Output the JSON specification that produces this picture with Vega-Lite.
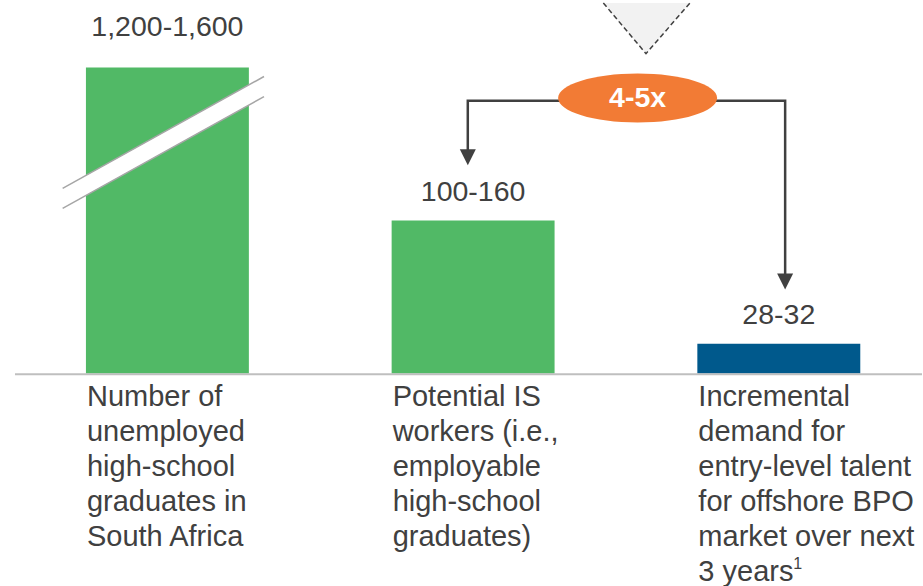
{
  "$schema": "https://vega.github.io/schema/vega-lite/v6.json",
  "width": 923,
  "height": 586,
  "autosize": {"type": "fit", "contains": "padding"},
  "padding": 0,
  "background": "white",
  "config": {"view": {"stroke": null}, "font": "Liberation Sans"},
  "datasets": {
    "bars": [
      {"key": "A", "category": "Number of\nunemployed\nhigh-school\ngraduates in\nSouth Africa", "range": "1,200-1,600", "value": 308, "segment": "Supply", "broken": true},
      {"key": "B", "category": "Potential IS\nworkers (i.e.,\nemployable\nhigh-school\ngraduates)", "range": "100-160", "value": 154, "segment": "Supply", "broken": false},
      {"key": "C", "category": "Incremental\ndemand for\nentry-level talent\nfor offshore BPO\nmarket over next\n3 years", "range": "28-32", "value": 30, "segment": "Demand", "broken": false}
    ],
    "triangle": [
      {"x": 604, "top": 373, "bottom": 373},
      {"x": 646.7, "top": 373, "bottom": 322},
      {"x": 690.7, "top": 373, "bottom": 373}
    ],
    "connector": [
      {"i": 0, "x": 468.3, "y": 222},
      {"i": 1, "x": 468.3, "y": 274.5},
      {"i": 2, "x": 786, "y": 274.5},
      {"i": 3, "x": 786, "y": 97}
    ],
    "arrows": [
      {"x": 468.3, "y": 217.7},
      {"x": 786, "y": 92.7}
    ],
    "multiple": [
      {"x": 638.3, "y": 277.3, "label": "4-5x"}
    ],
    "breakBand": [
      {"x": 62.7, "upper": 186.3, "lower": 166.3},
      {"x": 264.3, "upper": 299, "lower": 278.7}
    ],
    "baseline": [
      {"from": 15, "to": 923, "level": -0.8}
    ],
    "footnote": [
      {"x": 794, "y": -196.5, "mark": "1"}
    ]
  },
  "resolve": {"scale": {"x": "independent"}},
  "layer": [
    {
      "data": {"name": "bars"},
      "layer": [
        {
          "mark": {"type": "bar"},
          "encoding": {
            "x": {"field": "key", "type": "nominal", "sort": null, "axis": null,
                  "scale": {"type": "band", "paddingInner": 0.467, "paddingOuter": 0.2415, "align": 0.582}},
            "y": {"field": "value", "type": "quantitative", "axis": null, "stack": null,
                  "scale": {"domain": [-213, 373], "nice": false}},
            "color": {"field": "segment", "type": "nominal", "legend": null,
                      "scale": {"domain": ["Supply", "Demand"], "range": ["#51B966", "#00598C"]}}
          }
        },
        {
          "transform": [{"filter": "datum.broken"}],
          "mark": {"type": "text", "align": "center", "baseline": "alphabetic", "fontSize": 28.5, "color": "#404040", "dy": -32},
          "encoding": {
            "x": {"field": "key", "type": "nominal", "sort": null, "axis": null},
            "y": {"field": "value", "type": "quantitative", "axis": null, "scale": {"domain": [-213, 373], "nice": false}},
            "text": {"field": "range", "type": "nominal"}
          }
        },
        {
          "transform": [{"filter": "!datum.broken"}],
          "mark": {"type": "text", "align": "center", "baseline": "alphabetic", "fontSize": 28.5, "color": "#404040", "dy": -20},
          "encoding": {
            "x": {"field": "key", "type": "nominal", "sort": null, "axis": null},
            "y": {"field": "value", "type": "quantitative", "axis": null, "scale": {"domain": [-213, 373], "nice": false}},
            "text": {"field": "range", "type": "nominal"}
          }
        },
        {
          "mark": {"type": "text", "align": "left", "baseline": "alphabetic", "fontSize": 29, "color": "#404040", "lineBreak": "\n", "lineHeight": 35, "dx": 1},
          "encoding": {
            "x": {"field": "key", "type": "nominal", "sort": null, "axis": null, "bandPosition": 0},
            "y": {"datum": -32.7, "type": "quantitative", "axis": null, "scale": {"domain": [-213, 373], "nice": false}},
            "text": {"field": "category", "type": "nominal"}
          }
        }
      ]
    },
    {
      "layer": [
        {
          "data": {"name": "triangle"},
          "mark": {"type": "area", "color": "#F2F2F2", "opacity": 1},
          "encoding": {
            "x": {"field": "x", "type": "quantitative", "axis": null, "scale": {"domain": [0, 923], "nice": false, "zero": false}},
            "y": {"field": "top", "type": "quantitative", "axis": null, "scale": {"domain": [-213, 373], "nice": false}},
            "y2": {"field": "bottom"}
          }
        },
        {
          "data": {"name": "triangle"},
          "mark": {"type": "line", "color": "#404040", "strokeWidth": 1.5, "strokeDash": [5, 3]},
          "encoding": {
            "x": {"field": "x", "type": "quantitative", "axis": null, "scale": {"domain": [0, 923], "nice": false, "zero": false}},
            "y": {"field": "bottom", "type": "quantitative", "axis": null, "scale": {"domain": [-213, 373], "nice": false}}
          }
        },
        {
          "data": {"name": "connector"},
          "mark": {"type": "line", "color": "#404040", "strokeWidth": 2.5, "strokeJoin": "miter"},
          "encoding": {
            "x": {"field": "x", "type": "quantitative", "axis": null, "scale": {"domain": [0, 923], "nice": false, "zero": false}},
            "y": {"field": "y", "type": "quantitative", "axis": null, "scale": {"domain": [-213, 373], "nice": false}},
            "order": {"field": "i", "type": "quantitative"}
          }
        },
        {
          "data": {"name": "arrows"},
          "mark": {"type": "point", "shape": "M-1,-1L1,-1L0,1Z", "size": 256, "filled": true, "color": "#404040", "opacity": 1, "strokeWidth": 0},
          "encoding": {
            "x": {"field": "x", "type": "quantitative", "axis": null, "scale": {"domain": [0, 923], "nice": false, "zero": false}},
            "y": {"field": "y", "type": "quantitative", "axis": null, "scale": {"domain": [-213, 373], "nice": false}}
          }
        },
        {
          "data": {"name": "multiple"},
          "mark": {"type": "point", "shape": "M-1,0A1,0.308,0,1,0,1,0A1,0.308,0,1,0,-1,0Z", "size": 25281, "filled": true, "color": "#F27B35", "opacity": 1, "strokeWidth": 0},
          "encoding": {
            "x": {"field": "x", "type": "quantitative", "axis": null, "scale": {"domain": [0, 923], "nice": false, "zero": false}},
            "y": {"field": "y", "type": "quantitative", "axis": null, "scale": {"domain": [-213, 373], "nice": false}}
          }
        },
        {
          "data": {"name": "multiple"},
          "mark": {"type": "text", "align": "center", "baseline": "alphabetic", "fontSize": 28.5, "fontWeight": "bold", "color": "white", "dy": 9},
          "encoding": {
            "x": {"field": "x", "type": "quantitative", "axis": null, "scale": {"domain": [0, 923], "nice": false, "zero": false}},
            "y": {"field": "y", "type": "quantitative", "axis": null, "scale": {"domain": [-213, 373], "nice": false}},
            "text": {"field": "label", "type": "nominal"}
          }
        },
        {
          "data": {"name": "breakBand"},
          "mark": {"type": "area", "color": "white", "opacity": 1},
          "encoding": {
            "x": {"field": "x", "type": "quantitative", "axis": null, "scale": {"domain": [0, 923], "nice": false, "zero": false}},
            "y": {"field": "upper", "type": "quantitative", "axis": null, "scale": {"domain": [-213, 373], "nice": false}},
            "y2": {"field": "lower"}
          }
        },
        {
          "data": {"name": "breakBand"},
          "mark": {"type": "line", "color": "#A6A6A6", "strokeWidth": 1.5},
          "encoding": {
            "x": {"field": "x", "type": "quantitative", "axis": null, "scale": {"domain": [0, 923], "nice": false, "zero": false}},
            "y": {"field": "upper", "type": "quantitative", "axis": null, "scale": {"domain": [-213, 373], "nice": false}}
          }
        },
        {
          "data": {"name": "breakBand"},
          "mark": {"type": "line", "color": "#A6A6A6", "strokeWidth": 1.5},
          "encoding": {
            "x": {"field": "x", "type": "quantitative", "axis": null, "scale": {"domain": [0, 923], "nice": false, "zero": false}},
            "y": {"field": "lower", "type": "quantitative", "axis": null, "scale": {"domain": [-213, 373], "nice": false}}
          }
        },
        {
          "data": {"name": "baseline"},
          "mark": {"type": "rule", "color": "#BFBFBF", "strokeWidth": 2},
          "encoding": {
            "x": {"field": "from", "type": "quantitative", "axis": null, "scale": {"domain": [0, 923], "nice": false, "zero": false}},
            "x2": {"field": "to"},
            "y": {"field": "level", "type": "quantitative", "axis": null, "scale": {"domain": [-213, 373], "nice": false}}
          }
        },
        {
          "data": {"name": "footnote"},
          "mark": {"type": "text", "align": "left", "baseline": "alphabetic", "fontSize": 16, "color": "#404040"},
          "encoding": {
            "x": {"field": "x", "type": "quantitative", "axis": null, "scale": {"domain": [0, 923], "nice": false, "zero": false}},
            "y": {"field": "y", "type": "quantitative", "axis": null, "scale": {"domain": [-213, 373], "nice": false}},
            "text": {"field": "mark", "type": "nominal"}
          }
        }
      ]
    }
  ]
}
